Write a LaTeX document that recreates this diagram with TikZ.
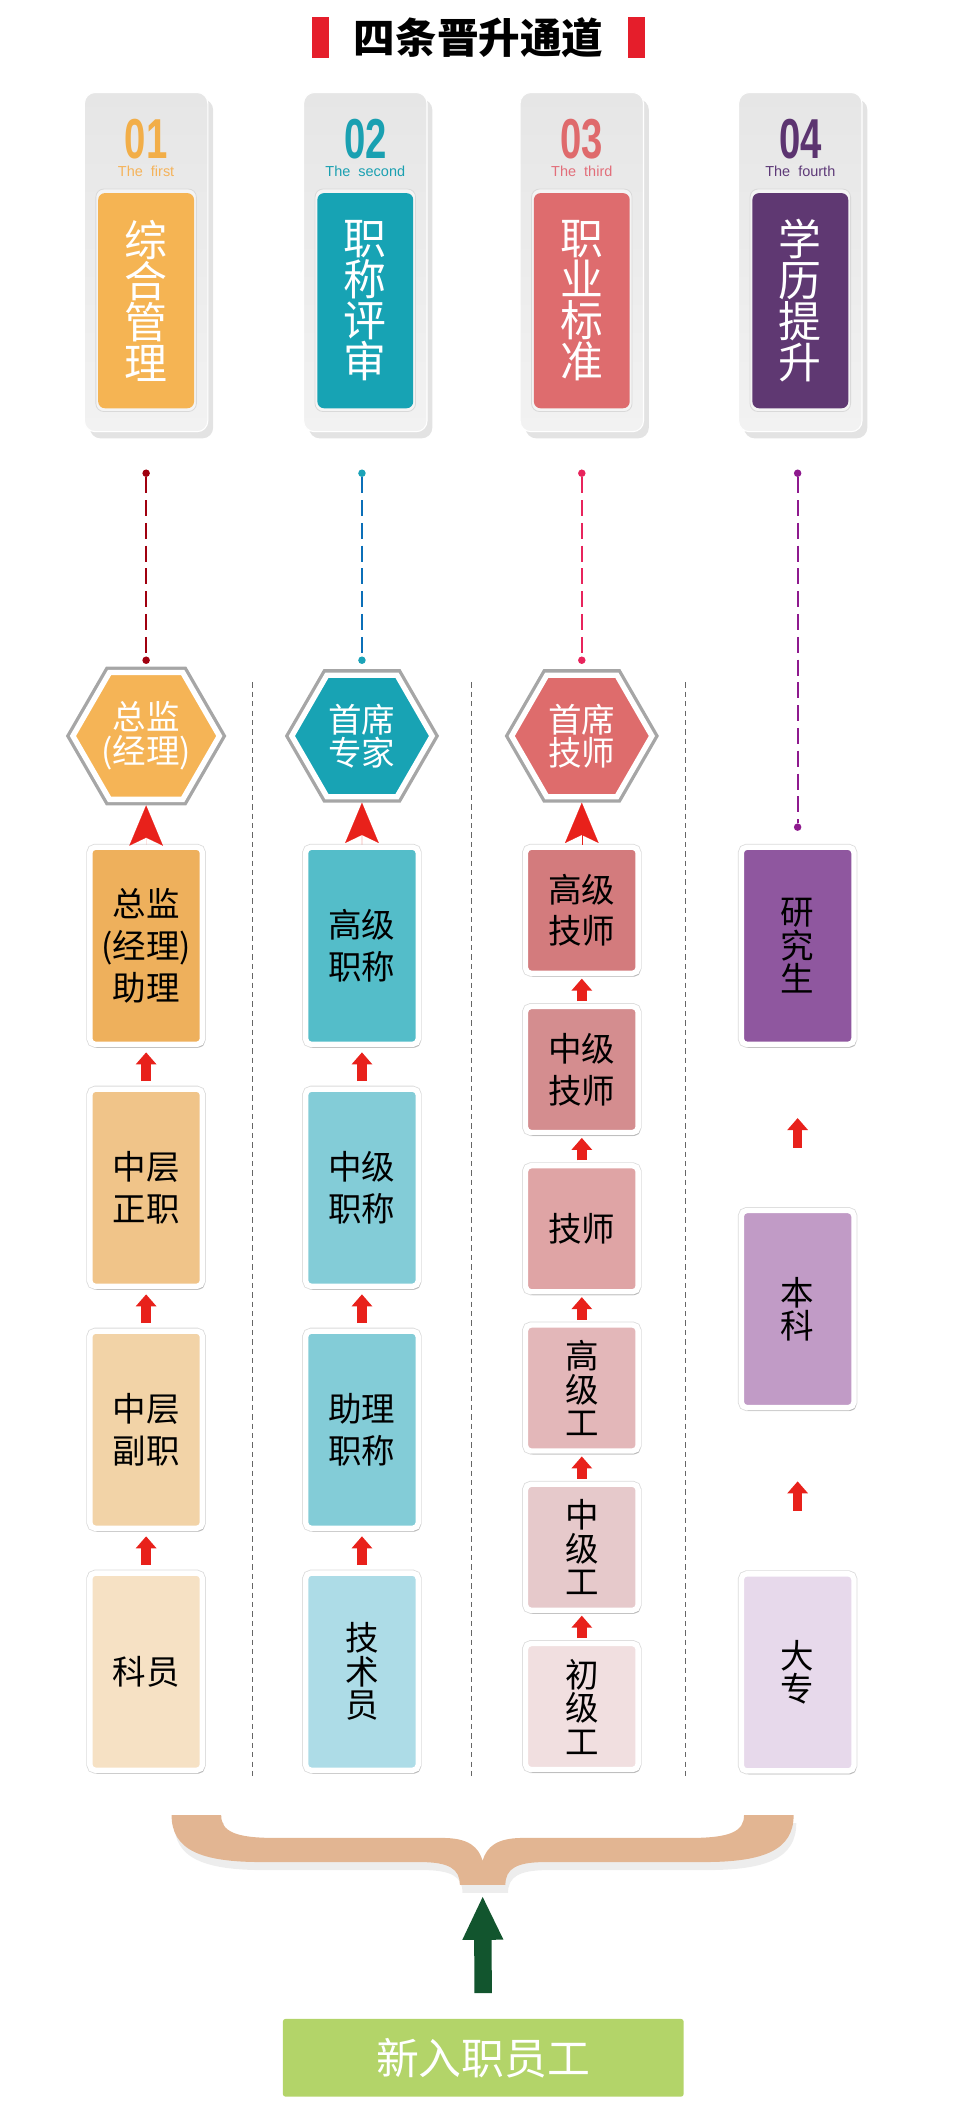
\documentclass[tikz,border=0pt]{standalone}
\usepackage{graphicx}
\usepackage{fontspec}
\setmainfont{Liberation Sans}
\newfontfamily\cjk{Noto Sans CJK SC}
\usetikzlibrary{arrows.meta,positioning,shapes.geometric,shadows}
\definecolor{TitleRed}{HTML}{E51E2B}
\definecolor{CardTop}{HTML}{E6E6E6}
\definecolor{CardBot}{HTML}{F2F2F2}
\definecolor{RimGray}{HTML}{F4F4F4}
\definecolor{ColA}{HTML}{F5B453}
\definecolor{ColB}{HTML}{17A3B4}
\definecolor{ColC}{HTML}{DE6C6E}
\definecolor{ColD}{HTML}{5F3872}
\definecolor{NumA}{HTML}{F2AE48}
\definecolor{NumB}{HTML}{1AA0B1}
\definecolor{NumC}{HTML}{DF6A6C}
\definecolor{NumD}{HTML}{5C3470}
\definecolor{SubA}{HTML}{F5B35A}
\definecolor{SubB}{HTML}{1AA0B1}
\definecolor{SubC}{HTML}{E26E7A}
\definecolor{SubD}{HTML}{5E3A78}
\definecolor{HexA}{HTML}{F5B456}
\definecolor{HexB}{HTML}{18A3B4}
\definecolor{HexC}{HTML}{DE6C6C}
\definecolor{HexRing}{HTML}{A6A6A6}
\definecolor{LinkA}{HTML}{A0000F}
\definecolor{LinkB}{HTML}{0B6FB8}
\definecolor{DotB}{HTML}{1BA3B8}
\definecolor{LinkC}{HTML}{E8245C}
\definecolor{LinkD}{HTML}{8E1A8E}
\definecolor{A1}{HTML}{EEB05C}
\definecolor{A2}{HTML}{F0C489}
\definecolor{A3}{HTML}{F2D3A7}
\definecolor{A4}{HTML}{F6E1C4}
\definecolor{B1}{HTML}{54BDC9}
\definecolor{B2}{HTML}{83CCD7}
\definecolor{B3}{HTML}{83CCD7}
\definecolor{B4}{HTML}{ADDCE7}
\definecolor{C1}{HTML}{D37B7D}
\definecolor{C2}{HTML}{D48D8F}
\definecolor{C3}{HTML}{DFA4A5}
\definecolor{C4}{HTML}{E3B7B9}
\definecolor{C5}{HTML}{E6C9CB}
\definecolor{C6}{HTML}{F1DFE0}
\definecolor{D1}{HTML}{8F579F}
\definecolor{D2}{HTML}{C19BC6}
\definecolor{D3}{HTML}{E7D9EB}
\definecolor{ArrowRed}{HTML}{E8211B}
\definecolor{Tan}{HTML}{E2B592}
\definecolor{Pine}{HTML}{12552E}
\definecolor{Sprout}{HTML}{B3D469}

\begin{document}
\begin{tikzpicture}[x=1pt,y=1pt,>=Latex,
  card/.style={rounded corners=8pt,top color=CardTop,bottom color=CardBot,draw=white,line width=.8pt,
    drop shadow={shadow xshift=4pt,shadow yshift=-5pt,opacity=.22},minimum width=92pt,minimum height=253pt,inner sep=0pt},
  rim/.style={rounded corners=6pt,fill=RimGray,draw=black!15,line width=.6pt,minimum width=75pt,minimum height=166pt,inner sep=0pt},
  panel/.style={rounded corners=5pt,minimum width=71.5pt,minimum height=160.5pt,inner sep=0pt,text=white,
    font=\cjk\fontsize{32}{30.5}\selectfont,align=center},
  num/.style={font=\bfseries\fontsize{42}{42}\selectfont,inner sep=0pt},
  subline/.style={font=\fontsize{10.8}{11}\selectfont,inner sep=0pt},
  hexa/.style={regular polygon,regular polygon sides=6,minimum size=104.6pt,inner sep=0pt,
    draw=white,line width=4pt,preaction={draw=HexRing,line width=9pt},text=white,
    font=\cjk\fontsize{25}{25}\selectfont,align=center},
  lvl/.style={rounded corners=4pt,draw=white,line width=4pt,minimum width=84pt,inner sep=0pt,
    preaction={draw=black!14,line width=5.2pt},
    drop shadow={shadow xshift=1.5pt,shadow yshift=-2.5pt,opacity=.4},font=\cjk\fontsize{25}{31}\selectfont,align=center},
  tall/.style={lvl,minimum height=147pt},
  short/.style={lvl,minimum height=94pt},
  vert/.style={font=\cjk\fontsize{25}{25}\selectfont},
  upar/.style={draw=ArrowRed,line width=7pt,-{Triangle[width=15pt,length=9pt]}},
  bigar/.style={draw=ArrowRed,line width=.1pt,-{Stealth[width=25pt,length=30pt,inset=6pt]}},
  bead/.style={circle,inner sep=0pt,minimum size=5.6pt},
  leader/.style={line width=1.6pt,dash pattern=on 12pt off 5pt},
  divider/.style={draw=black!60,line width=.6pt,dash pattern=on 4pt off 3pt}]
  \useasboundingbox (0,0) rectangle (714,-1568);

  % title
  \node[inner sep=0pt,font=\cjk\bfseries\fontsize{31}{31}\selectfont] (title) at (357,-28) {四条晋升通道};
  \node[fill=TitleRed,inner sep=0pt,minimum width=13pt,minimum height=31pt,left=18pt of title] (barL) {};
  \node[fill=TitleRed,inner sep=0pt,minimum width=13pt,minimum height=31pt,right=18pt of title] (barR) {};

  % four channel cards
  \foreach \i/\cx/\nm/\sb/\ttl in {A/109/01/first/{综\\合\\管\\理},B/272.5/02/second/{职\\称\\评\\审},
      C/434/03/third/{职\\业\\标\\准},D/597/04/fourth/{学\\历\\提\\升}}{
    \node[card] (card\i) at (\cx,-195.5) {};
    \node[rim] (rim\i) at (\cx,-224) {};
    \node[panel,fill=Col\i] (panel\i) at (\cx,-224.3) {\ttl};
    \node[num,text=Num\i] (num\i) at (\cx,-104) {\scalebox{0.68}[1]{\nm}};
    \node[subline,text=Sub\i] (sub\i) at (\cx,-127.5) {The\ \ \sb};
  }

  % dotted leaders
  \foreach \i/\cx/\lc/\dc/\yb in {A/109/LinkA/LinkA/492.5,B/270/LinkB/DotB/492.5,C/434/LinkC/LinkC/492.5,D/595/LinkD/LinkD/617}{
    \node[bead,fill=\dc] (top\i) at (\cx,-353) {};
    \node[bead,fill=\dc] (end\i) at (\cx,-\yb) {};
    \draw[leader,draw=\lc] (top\i) -- (end\i);
  }

  % column dividers
  \foreach \sx in {188,352,511}
    \draw[divider] (\sx,-509) -- (\sx,-1326);

  % top posts
  \node[hexa,fill=HexA] (hexA) at (109,-549) {总监\\(经理)};
  \node[hexa,fill=HexB] (hexB) at (270,-549) {首席\\专家};
  \node[hexa,fill=HexC] (hexC) at (434,-549) {首席\\技师};

  % management
  \node[tall,fill=A1] (a1) at (109,-705.5) {总监\\(经理)\\助理};
  \node[tall,fill=A2,below=29.5pt of a1] (a2) {中层\\正职};
  \node[tall,fill=A3,below=29.5pt of a2] (a3) {中层\\副职};
  \node[tall,fill=A4,below=29.5pt of a3] (a4) {科员};

  % titles
  \node[tall,fill=B1] (b1) at (270,-705.5) {高级\\职称};
  \node[tall,fill=B2,below=29.5pt of b1] (b2) {中级\\职称};
  \node[tall,fill=B3,below=29.5pt of b2] (b3) {助理\\职称};
  \node[tall,vert,fill=B4,below=29.5pt of b3] (b4) {技\\术\\员};

  % skills
  \node[short,fill=C1] (c1) at (434,-679) {高级\\技师};
  \node[short,fill=C2,below=20.8pt of c1] (c2) {中级\\技师};
  \node[short,fill=C3,below=20.8pt of c2] (c3) {技师};
  \node[short,vert,fill=C4,below=20.8pt of c3] (c4) {高\\级\\工};
  \node[short,vert,fill=C5,below=20.8pt of c4] (c5) {中\\级\\工};
  \node[short,vert,fill=C6,below=20.8pt of c5] (c6) {初\\级\\工};

  % education
  \node[tall,vert,fill=D1] (d1) at (595,-705.5) {研\\究\\生};
  \node[tall,vert,fill=D2,below=120pt of d1] (d2) {本\\科};
  \node[tall,vert,fill=D3,below=120pt of d2] (d3) {大\\专};

  \foreach \p/\q in {a2/a1,a3/a2,a4/a3,b2/b1,b3/b2,b4/b3}
    \draw[upar,shorten <=4pt,shorten >=4pt] (\p) -- (\q);
  \foreach \p/\q in {c2/c1,c3/c2,c4/c3,c5/c4,c6/c5}
    \draw[upar,shorten <=2pt,shorten >=2pt] (\p) -- (\q);
  \foreach \p/\q in {d2/d1,d3/d2}
    \draw[upar,shorten <=45pt,shorten >=53pt] (\p) -- (\q);
  \foreach \p/\q in {a1/hexA,b1/hexB,c1/hexC}
    \draw[bigar,shorten >=2.5pt] (\p) -- (\q);

  % brace
  \fill[Tan,drop shadow={shadow xshift=2pt,shadow yshift=-6pt,opacity=.14}]
    (128,-1354) .. controls (128,-1380) and (150,-1389) .. (195,-1389)
    -- (313,-1389) .. controls (335,-1389) and (343,-1394) .. (343,-1406)
    -- (377,-1406) .. controls (377,-1394) and (385,-1389) .. (407,-1389)
    -- (525,-1389) .. controls (570,-1389) and (592,-1380) .. (592,-1354)
    -- (555,-1354) .. controls (555,-1366) and (545,-1371) .. (515,-1371)
    -- (390,-1371) .. controls (370,-1371) and (363,-1378) .. (360,-1388)
    .. controls (357,-1378) and (350,-1371) .. (330,-1371)
    -- (205,-1371) .. controls (175,-1371) and (165,-1366) .. (165,-1354) -- cycle;
  \coordinate (brtip) at (360,-1406);

  \node[fill=Sprout,rounded corners=2pt,minimum width=299pt,minimum height=58pt,inner sep=0pt,text=white,
    font=\cjk\fontsize{32}{32}\selectfont] (newbie) at (360.5,-1535) {新入职员工};
  \draw[line width=13pt,draw=Pine,-{Triangle[width=28pt,length=33pt]},shorten <=19pt,shorten >=8pt] (newbie.north) -- (brtip);
\end{tikzpicture}
\end{document}
